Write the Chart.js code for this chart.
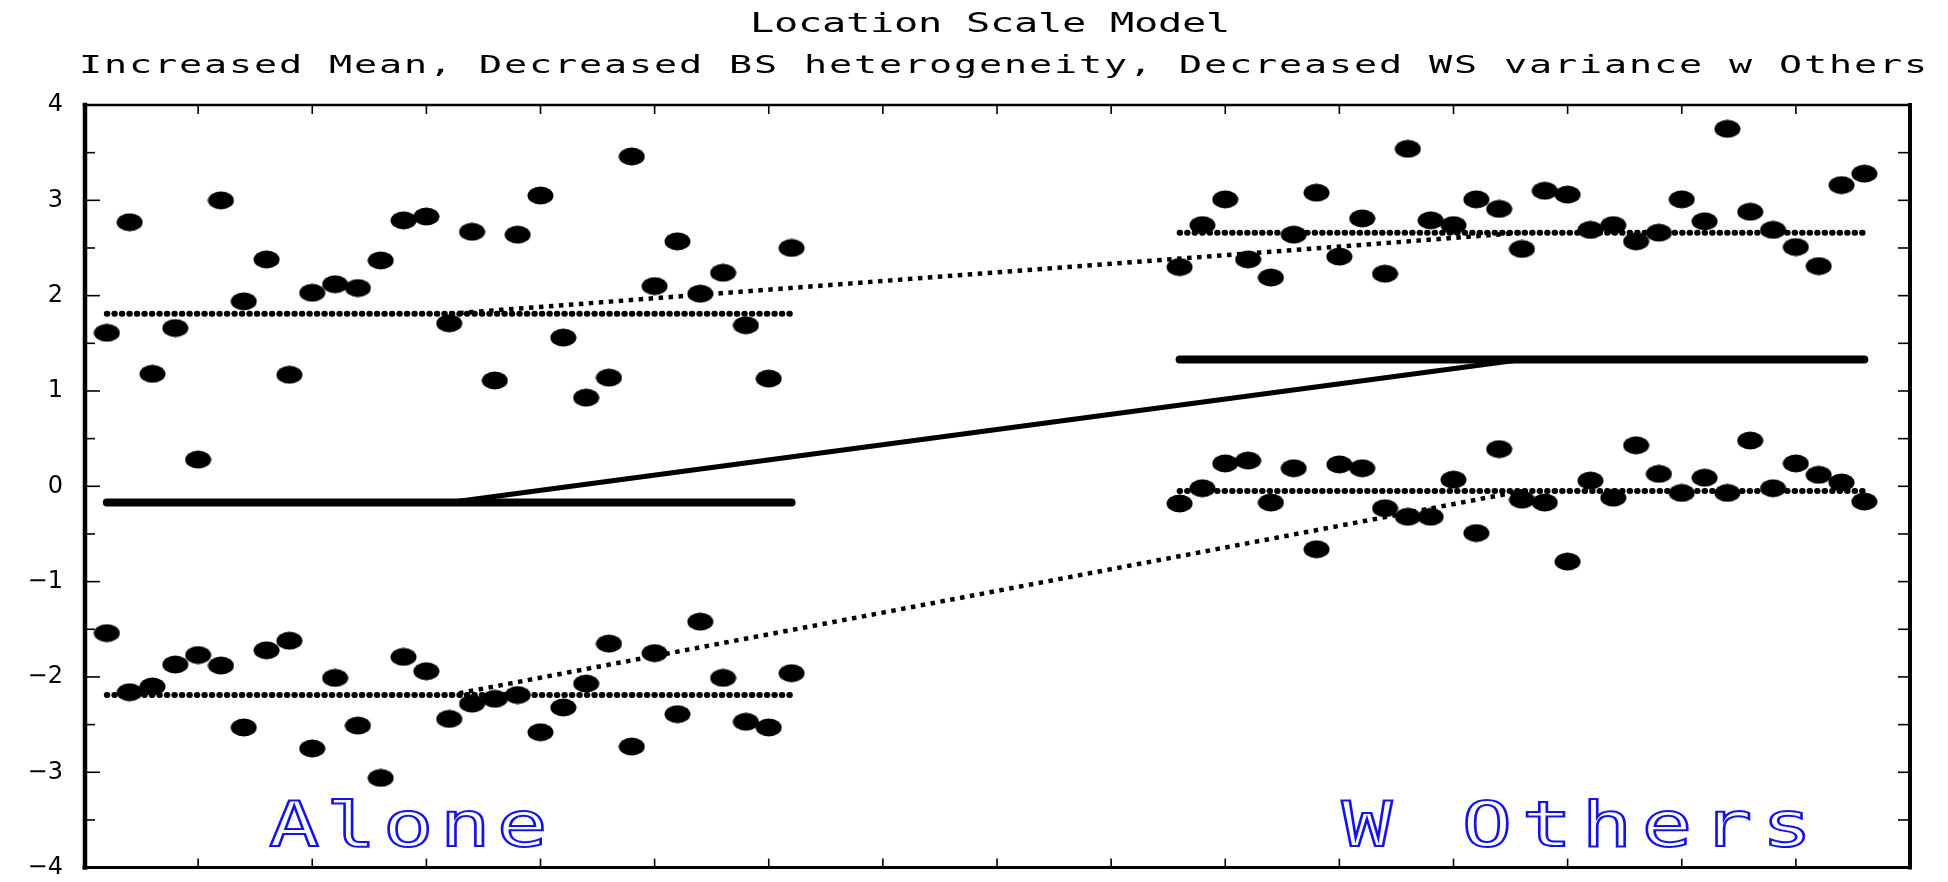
<!DOCTYPE html>
<html lang="en">
<head>
    <meta charset="UTF-8" />
    <title>Location Scale Model</title>
    <style>
        html, body { margin: 0; padding: 0; background: #fff; }
        .chart-container { position: relative; width: 1948px; height: 882px; }
    </style>
    <script src="https://cdn.jsdelivr.net/npm/chart.js"></script>
</head>
<body>
    <div class="chart-container">
        <canvas id="lsmChart"></canvas>
    </div>

    <script>
        // subject positions along the x axis
        const aloneX = [1, 2, 3, 4, 5, 6, 7, 8, 9, 10, 11, 12, 13, 14, 15, 16, 17, 18, 19, 20, 21, 22, 23, 24, 25, 26, 27, 28, 29, 30, 31];
        const othersX = [48, 49, 50, 51, 52, 53, 54, 55, 56, 57, 58, 59, 60, 61, 62, 63, 64, 65, 66, 67, 68, 69, 70, 71, 72, 73, 74, 75, 76, 77, 78];

        // observed values, upper and lower cluster of each condition
        const aloneHigh = [1.61, 2.77, 1.18, 1.66, 0.28, 3.00, 1.94, 2.38, 1.17, 2.03, 2.12, 2.08, 2.37, 2.79, 2.83, 1.71,
                           2.67, 1.11, 2.64, 3.05, 1.56, 0.93, 1.14, 3.46, 2.10, 2.57, 2.02, 2.24, 1.69, 1.13, 2.50];
        const aloneLow = [-1.54, -2.16, -2.10, -1.87, -1.77, -1.88, -2.53, -1.72, -1.62, -2.75, -2.01, -2.51, -3.06, -1.79, -1.94, -2.44,
                          -2.28, -2.23, -2.19, -2.58, -2.32, -2.07, -1.65, -2.73, -1.75, -2.39, -1.42, -2.01, -2.47, -2.53, -1.96];
        const othersHigh = [2.30, 2.74, 3.01, 2.38, 2.19, 2.64, 3.08, 2.41, 2.81, 2.23, 3.54, 2.79, 2.74, 3.01, 2.91, 2.49,
                            3.10, 3.06, 2.69, 2.74, 2.57, 2.66, 3.01, 2.78, 3.75, 2.88, 2.69, 2.51, 2.31, 3.16, 3.28];
        const othersLow = [-0.18, -0.02, 0.24, 0.27, -0.17, 0.19, -0.66, 0.23, 0.19, -0.23, -0.32, -0.32, 0.07, -0.49, 0.39, -0.14,
                           -0.17, -0.79, 0.06, -0.12, 0.43, 0.13, -0.07, 0.09, -0.07, 0.48, -0.02, 0.24, 0.12, 0.04, -0.16];

        // group levels: [mean, upper, lower]
        const aloneLevel = [-0.17, 1.81, -2.19];
        const othersLevel = [1.33, 2.66, -0.05];
        const aloneMid = 16;
        const othersMid = 63;

        // axes
        const yMin = -4, yMax = 4;
        const xMin = 0, xMax = 80;
        const xTicks = [5, 10, 15, 20, 25, 30, 35, 40, 45, 50, 55, 60, 65, 70, 75];

        const titleLines = ['Location Scale Model',
                            'Increased Mean, Decreased BS heterogeneity, Decreased WS variance w Others'];
        const groupLabels = ['Alone', 'W Others'];

        // label placement (data units)
        const groupLabelX = [8.1, 55.1];
        const groupLabelY = -3.77;

        // filled ellipse used as the point marker
        function dotImage(w, h) {
            const c = document.createElement('canvas');
            c.width = w;
            c.height = h;
            const g = c.getContext('2d');
            g.fillStyle = '#000';
            g.beginPath();
            g.ellipse(w / 2, h / 2, w / 2 - 0.5, h / 2 - 0.5, 0, 0, Math.PI * 2);
            g.fill();
            return c;
        }
        const dot = dotImage(27, 19);

        function pts(xs, ys) {
            return xs.map((x, i) => ({ x: x, y: ys[i] }));
        }

        function pointSet(xs, ys) {
            return {
                data: pts(xs, ys),
                pointStyle: dot,
                pointRadius: 10,
                showLine: false
            };
        }

        const solidFlat = { borderColor: '#000', borderWidth: 8, borderCapStyle: 'round' };
        const solidRamp = { borderColor: '#000', borderWidth: 5, borderCapStyle: 'round' };
        const dotFlat = { borderColor: '#000', borderWidth: 6, borderDash: [0.5, 7], borderCapStyle: 'round' };
        const dotRamp = { borderColor: '#000', borderWidth: 4.5, borderDash: [4.5, 5.5], borderCapStyle: 'butt' };

        function lineSet(data, style) {
            return Object.assign({ data: data, showLine: true, pointRadius: 0, tension: 0 }, style);
        }

        const datasets = [
            pointSet(aloneX, aloneHigh),
            pointSet(aloneX, aloneLow),
            pointSet(othersX, othersHigh),
            pointSet(othersX, othersLow)
        ];
        aloneLevel.forEach((lvl, k) => {
            const flat = k === 0 ? solidFlat : dotFlat;
            const ramp = k === 0 ? solidRamp : dotRamp;
            datasets.push(lineSet([{ x: aloneX[0], y: lvl }, { x: aloneX[aloneX.length - 1], y: lvl }], flat));
            datasets.push(lineSet([{ x: othersX[0], y: othersLevel[k] }, { x: othersX[othersX.length - 1], y: othersLevel[k] }], flat));
            datasets.push(lineSet([{ x: aloneMid, y: lvl }, { x: othersMid, y: othersLevel[k] }], ramp));
        });

        // text stretched to a given width, like the wide plotter font of the original
        function wideText(ctx, text, left, baseline, width, font, sx, stroke) {
            ctx.save();
            ctx.font = font;
            ctx.letterSpacing = '0px';
            const w0 = ctx.measureText(text).width;
            if ('letterSpacing' in ctx) {
                ctx.letterSpacing = ((width / sx - w0) / text.length) + 'px';
            } else {
                sx = width / w0;
            }
            ctx.translate(left, baseline);
            ctx.scale(sx, 1);
            ctx.textAlign = 'left';
            ctx.textBaseline = 'alphabetic';
            if (stroke) ctx.strokeText(text, 0, 0);
            else ctx.fillText(text, 0, 0);
            ctx.restore();
        }

        const framePlugin = {
            id: 'frame',
            afterDraw(chart) {
                const { ctx, chartArea: a, scales: { x, y } } = chart;
                ctx.save();
                ctx.strokeStyle = '#000';
                ctx.lineCap = 'butt';

                function seg(x1, y1, x2, y2, w) {
                    ctx.lineWidth = w;
                    ctx.beginPath();
                    ctx.moveTo(x1, y1);
                    ctx.lineTo(x2, y2);
                    ctx.stroke();
                }

                // inward tick marks
                y.ticks.forEach(t => {
                    const py = y.getPixelForValue(t.value);
                    const major = Number.isInteger(t.value);
                    seg(a.left, py, a.left + (major ? 16 : 11), py, 1.6);
                    seg(a.right, py, a.right - 12, py, 1.6);
                });
                xTicks.forEach(v => {
                    const px = x.getPixelForValue(v);
                    seg(px, a.top, px, a.top + 9, 1.6);
                    seg(px, a.bottom, px, a.bottom - 9, 1.6);
                });

                // frame, heavier on left/right
                ctx.lineCap = 'square';
                seg(a.left, a.top, a.right, a.top, 2.5);
                seg(a.left, a.bottom, a.right, a.bottom, 3);
                seg(a.left + 1, a.top, a.left + 1, a.bottom, 4.5);
                seg(a.right, a.top, a.right, a.bottom, 4);

                // titles
                ctx.fillStyle = '#000';
                wideText(ctx, titleLines[0], 750, 32, 480, '26px "DejaVu Sans Mono"', 1.55, false);
                wideText(ctx, titleLines[1], 79, 73, 1850, '24px "DejaVu Sans Mono"', 1.6, false);

                // group labels, hollow blue lettering
                ctx.strokeStyle = '#1414e6';
                ctx.lineWidth = 2;
                const base = y.getPixelForValue(groupLabelY);
                wideText(ctx, groupLabels[0], x.getPixelForValue(groupLabelX[0]), base, 285, '62px "DejaVu Sans Mono"', 1.35, true);
                wideText(ctx, groupLabels[1], x.getPixelForValue(groupLabelX[1]), base, 480, '62px "DejaVu Sans Mono"', 1.35, true);
                ctx.restore();
            }
        };

        function initChart() {
            const ctx = document.getElementById('lsmChart').getContext('2d');
            new Chart(ctx, {
                type: 'scatter',
                data: { datasets: datasets },
                options: {
                    responsive: true,
                    maintainAspectRatio: false,
                    animation: false,
                    layout: { padding: { left: 0, right: 38, top: 105, bottom: 13 } },
                    scales: {
                        x: {
                            type: 'linear',
                            display: false,
                            min: xMin,
                            max: xMax
                        },
                        y: {
                            type: 'linear',
                            min: yMin,
                            max: yMax,
                            afterFit: scale => { scale.width = 84; },
                            border: { display: false },
                            // invisible tick marks push the labels away from the axis
                            grid: { display: true, drawOnChartArea: false, drawTicks: true, tickLength: 21, tickColor: 'rgba(0,0,0,0)' },
                            ticks: {
                                stepSize: 0.5,
                                autoSkip: false,
                                padding: 0,
                                color: '#000',
                                font: { family: 'DejaVu Sans', size: 24 },
                                callback: v => Number.isInteger(v) ? (v < 0 ? '\u2212' + Math.abs(v) : String(v)) : ''
                            }
                        }
                    },
                    plugins: {
                        legend: { display: false },
                        tooltip: { enabled: false }
                    }
                },
                plugins: [framePlugin]
            });
        }

        document.addEventListener('DOMContentLoaded', initChart);
    </script>
</body>
</html>
